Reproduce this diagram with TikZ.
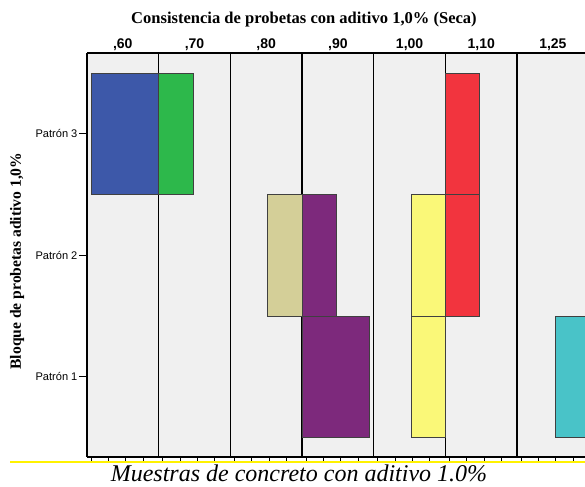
\documentclass[tikz,border=0pt]{standalone}
\usepackage{fontspec}
\setmainfont{Liberation Serif}
\setsansfont{Liberation Sans}
\usetikzlibrary{positioning}

\definecolor{panel area}{HTML}{F0F0F0}
\definecolor{bar blue}{HTML}{3D58A9}
\definecolor{bar green}{HTML}{2DB84B}
\definecolor{bar red}{HTML}{F2343E}
\definecolor{bar tan}{HTML}{D4CF98}
\definecolor{bar purple}{HTML}{7D297C}
\definecolor{bar yellow}{HTML}{FAF878}
\definecolor{bar cyan}{HTML}{49C3C8}
\tikzset{
  bar/.style={draw=black!75, line width=0.6pt},
  panel line/.style={draw=black, line width=1.1pt}
  }
\tikzstyle{col label} = [font=\sffamily\bfseries\fontsize{10.5}{12}\selectfont, inner sep=1pt]
\tikzstyle{row label} = [font=\sffamily\fontsize{8.3}{10}\selectfont, anchor=east, inner sep=1pt]
\tikzstyle{row tick} = [draw, line width=0.6pt, -]

\begin{document}
\begin{tikzpicture}[x=0.75pt, y=-0.75pt]
    \useasboundingbox (0,0) rectangle (585,486);

    % The panels
    \fill[panel area] (87,53) rectangle (585,457);
    \foreach \x in {87,158.6,230.3,302,373.7,445.4,517} {
      \draw[panel line] (\x,53) -- (\x,457);
    }
    \draw[line width=1pt] (87,53) -- (585,53);
    \draw[line width=1pt] (87,457) -- (585,457);

    % small ticks under each panel
    \foreach \x in {87,158.6,230.3,302,373.7,445.4,517} {
      \foreach \k in {0,...,3} {
        \draw[line width=0.6pt] (\x+4+17.3*\k,457) -- (\x+4+17.3*\k,461);
      }
    }

    % The bars
    \foreach \l/\r/\t/\b/\c in {91/158.6/73/194.7/bar blue, 158.6/193/73/194.7/bar green,
        445.4/479/73/194.7/bar red, 267.7/302/194.7/316/bar tan, 302/336/194.7/316/bar purple,
        411/445.4/194.7/316/bar yellow, 445.4/479/194.7/316/bar red,
        302/369.5/316/437.5/bar purple, 411/445.4/316/437.5/bar yellow, 555/586/316/437.5/bar cyan} {
      \filldraw[bar, fill=\c] (\l,\t) rectangle (\r,\b);
    }

    % Column labels
    \foreach \x/\name/\txt in {122.8/c60/{,60}, 194.5/c70/{,70}, 266.2/c80/{,80}, 337.9/c90/{,90},
        409.6/c100/{1,00}, 481.2/c110/{1,10}, 552.9/c125/{1,25}} {
      \node[col label] (\name) at (\x,45) {\txt};
    }

    % Row labels and their ticks
    \foreach \y/\name/\txt in {133.8/p3/Patrón 3, 255.3/p2/Patrón 2, 376.8/p1/Patrón 1} {
      \node[row label] (\name) at (79,\y) {\txt};
      \coordinate (\name axis) at (87,\y);
      \path[row tick] (\name.east) -- (\name axis);
    }

    % Titles
    \node[font=\bfseries\fontsize{12.4}{14}\selectfont] (title) at (304,20) {Consistencia de probetas con aditivo 1,0\% (Seca)};
    \node[font=\bfseries\fontsize{11.7}{13}\selectfont, rotate=90] (ytitle) at (17,261) {Bloque de probetas aditivo 1,0\%};

    % yellow rule and caption
    \coordinate (rule start) at (10,461.5);
    \coordinate (rule end) at (585,461.5);
    \draw[yellow, line width=1.5pt] (rule start) -- (rule end);
    \node[font=\itshape\fontsize{18}{20}\selectfont] (caption) at (299,473) {Muestras de concreto con aditivo 1.0\%};
\end{tikzpicture}
\end{document}
